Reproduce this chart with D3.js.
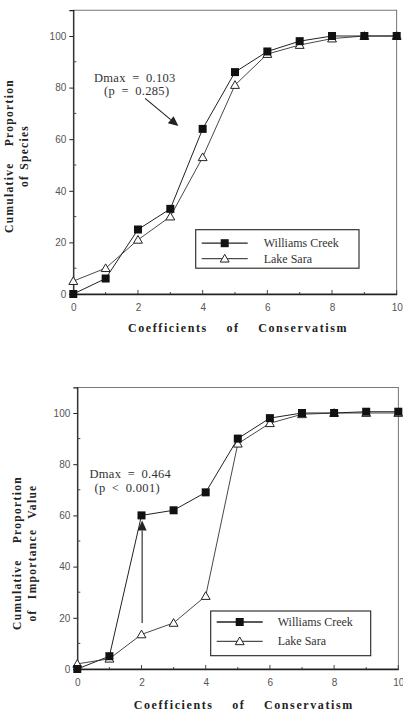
<!DOCTYPE html>
<html>
<head>
<meta charset="utf-8">
<script src="https://cdn.jsdelivr.net/npm/d3@7"></script>
<style>
  html, body { margin: 0; padding: 0; background: #fff; }
  svg { display: block; }
</style>
</head>
<body>
<script>
// x categories: coefficient of conservatism
const coefs = [0, 1, 2, 3, 4, 5, 6, 7, 8, 9, 10]

// panel 1: cumulative proportion of species
const speciesWilliams = [0, 6, 25, 33, 64, 86, 94, 98, 100, 100, 100]
const speciesLakeSara = [5, 10, 21, 30, 53, 81, 93, 96.5, 99, 100, 100]

// panel 2: cumulative proportion of importance value
const importanceWilliams = [0, 5, 60, 62, 69, 90, 98, 100, 100, 100.5, 100.5]
const importanceLakeSara = [2, 4, 13.5, 18, 28.5, 88, 96, 99.5, 100, 100, 100]

const seriesNames = ['Williams Creek', 'Lake Sara']
const yTicks = [0, 20, 40, 60, 80, 100]
const xTicks = [0, 2, 4, 6, 8, 10]

const width = 403, height = 713
const svg = d3.select('body').append('svg')
  .attr('width', width).attr('height', height)
  .attr('viewBox', `0 0 ${width} ${height}`)

const ink = '#222'
const serif = "'Liberation Serif', 'DejaVu Serif', serif"
const sans = "'Liberation Sans', Arial, sans-serif"

function translate(dx, dy) { return `translate(${dx},${dy})` }

function arrowHead(g, x1, y1, x2, y2, len, half) {
  const a = Math.atan2(y2 - y1, x2 - x1)
  const bx = x2 - len * Math.cos(a), by = y2 - len * Math.sin(a)
  const px = -Math.sin(a) * half, py = Math.cos(a) * half
  g.append('path')
    .attr('d', `M${x2},${y2}L${bx + px},${by + py}L${bx - px},${by - py}Z`)
    .attr('fill', ink)
  g.append('line')
    .attr('x1', x1).attr('y1', y1).attr('x2', bx).attr('y2', by)
    .attr('stroke', ink).attr('stroke-width', 1.1)
}

function panel(opts) {
  const {left, right, top, bottom, williams, lakeSara, ylabel, note, arrow, legend} = opts

  const x = d3.scaleLinear().domain([0, 10]).range([left, right])
  const y = d3.scaleLinear().domain([0, 110]).range([bottom, top])

  const g = svg.append('g')

  // frame
  g.append('rect')
    .attr('x', left).attr('y', top)
    .attr('width', right - left).attr('height', bottom - top)
    .attr('fill', 'none').attr('stroke', '#555').attr('stroke-width', 0.8)

  // y axis
  const yAxis = g.append('g')
    .attr('transform', translate(left, 0))
    .call(d3.axisLeft(y).tickValues(yTicks).tickSize(4).tickPadding(3))
  yAxis.select('.domain').attr('stroke', ink).attr('stroke-width', 1.2)
  yAxis.selectAll('text').attr('font-family', sans).attr('font-size', 10).attr('fill', '#555')
  yAxis.selectAll('line').attr('stroke', ink)
  g.append('g').selectAll('line')
    .data([10, 30, 50, 70, 90])
    .join('line')
      .attr('x1', left).attr('x2', left + 3)
      .attr('y1', d => y(d)).attr('y2', d => y(d))
      .attr('stroke', '#444')

  // x axis
  const xAxis = g.append('g')
    .attr('transform', translate(0, bottom))
    .call(d3.axisBottom(x).tickValues(xTicks).tickSize(0).tickPadding(10).tickSizeOuter(0))
  xAxis.select('.domain').attr('stroke', ink).attr('stroke-width', 1.6)
  xAxis.selectAll('text').attr('font-family', sans).attr('font-size', 10).attr('fill', '#555')
  g.append('g').selectAll('line')
    .data(coefs.slice(1))
    .join('line')
      .attr('x1', d => x(d)).attr('x2', d => x(d))
      .attr('y1', bottom).attr('y2', d => bottom - (d % 2 ? 2 : 4))
      .attr('stroke', '#444')

  // axis titles
  g.append('text')
    .attr('x', (left + right) / 2 + opts.xlabelShift)
    .attr('y', opts.xlabelY)
    .attr('text-anchor', 'middle')
    .attr('font-family', serif).attr('font-weight', 'bold').attr('font-size', 12)
    .attr('letter-spacing', 1.6).attr('word-spacing', 14)
    .attr('fill', ink)
    .text('Coefficients of Conservatism')

  const yl = g.append('text')
    .attr('transform', `translate(${opts.ylabelX},${opts.ylabelY}) rotate(-90)`)
    .attr('text-anchor', 'middle')
    .attr('font-family', serif).attr('font-weight', 'bold').attr('font-size', 11.5)
    .attr('letter-spacing', 1.3)
    .attr('fill', ink)
  yl.append('tspan').attr('x', 0).attr('dy', 0).attr('word-spacing', 12).text(ylabel[0])
  yl.append('tspan').attr('x', 0).attr('dy', 15).attr('word-spacing', opts.ylabelGap).text(ylabel[1])

  // lines
  const line = d3.line().x((d, i) => x(coefs[i])).y(d => y(d))
  g.append('path').datum(lakeSara)
    .attr('d', line).attr('fill', 'none').attr('stroke', '#333').attr('stroke-width', 0.9)
  g.append('path').datum(williams)
    .attr('d', line).attr('fill', 'none').attr('stroke', ink).attr('stroke-width', 1)

  const tri = d3.symbol().type(d3.symbolTriangle).size(34)
  g.append('g').selectAll('path')
    .data(lakeSara)
    .join('path')
      .attr('transform', (d, i) => translate(x(coefs[i]), y(d) + 0.8))
      .attr('d', tri)
      .attr('fill', '#fff').attr('stroke', ink).attr('stroke-width', 1)
  g.append('g').selectAll('rect')
    .data(williams)
    .join('rect')
      .attr('x', (d, i) => x(coefs[i]) - 4).attr('y', d => y(d) - 4)
      .attr('width', 8).attr('height', 8)
      .attr('fill', '#111')

  // annotation
  const nt = g.append('text')
    .attr('font-family', serif).attr('font-size', 12.5)
    .attr('word-spacing', 3).attr('letter-spacing', 0.3)
    .attr('fill', '#333').attr('text-anchor', 'middle')
  nt.append('tspan').attr('x', x(note.x)).attr('y', y(note.y)).text(note.lines[0])
  nt.append('tspan').attr('x', x(note.x) + note.dx2).attr('y', y(note.y) + 13.5).text(note.lines[1])
  arrowHead(g, x(arrow[0]), y(arrow[1]), x(arrow[2]), y(arrow[3]), 10, 4.5)

  // legend
  const lg = g.append('g').attr('transform', translate(legend.x, legend.y))
  lg.append('rect')
    .attr('width', legend.w).attr('height', legend.h)
    .attr('fill', '#fff').attr('stroke', ink).attr('stroke-width', 1.1)
  const rows = lg.selectAll('g').data(seriesNames).join('g')
    .attr('transform', (d, i) => translate(0, legend.row0 + i * legend.gap))
  rows.append('line')
    .attr('x1', 6).attr('x2', legend.lineEnd)
    .attr('stroke', ink).attr('stroke-width', (d, i) => i ? 1 : 1.3)
  rows.filter((d, i) => i === 0).append('rect')
    .attr('x', legend.lineEnd / 2 + 3 - 4).attr('y', -4).attr('width', 8).attr('height', 8).attr('fill', '#111')
  rows.filter((d, i) => i === 1).append('path')
    .attr('transform', translate(legend.lineEnd / 2 + 3, 0.8))
    .attr('d', tri).attr('fill', '#fff').attr('stroke', ink)
  rows.append('text')
    .attr('x', legend.textX).attr('y', 4)
    .attr('font-family', serif).attr('font-size', 12).attr('fill', '#333')
    .text(d => d)
}

panel({
  left: 73.3, right: 396.7, top: 10.2, bottom: 294,
  williams: speciesWilliams, lakeSara: speciesLakeSara,
  ylabel: ['Cumulative Proportion', 'of Species'], ylabelGap: 1,
  ylabelX: 13, ylabelY: 156,
  xlabelY: 332, xlabelShift: 3,
  note: {x: 1.9, y: 82.2, dx2: 2, lines: ['Dmax = 0.103', '(p = 0.285)']},
  arrow: [2.22, 75.8, 3.25, 65.1],
  legend: {x: 195.7, y: 229.7, w: 163.3, h: 38.5, row0: 13.5, gap: 15.5, lineEnd: 52, textX: 68}
})

panel({
  left: 77.3, right: 398.3, top: 387.4, bottom: 669,
  williams: importanceWilliams, lakeSara: importanceLakeSara,
  ylabel: ['Cumulative Proportion', 'of Importance Value'], ylabelGap: 6,
  ylabelX: 21, ylabelY: 553,
  xlabelY: 709, xlabelShift: 6,
  note: {x: 1.65, y: 74.5, dx2: -3, lines: ['Dmax = 0.464', '(p < 0.001)']},
  arrow: [2.02, 18, 2.02, 58],
  legend: {x: 210.7, y: 611, w: 160, h: 44.7, row0: 11, gap: 19.3, lineEnd: 52, textX: 67}
})
</script>
</body>
</html>
